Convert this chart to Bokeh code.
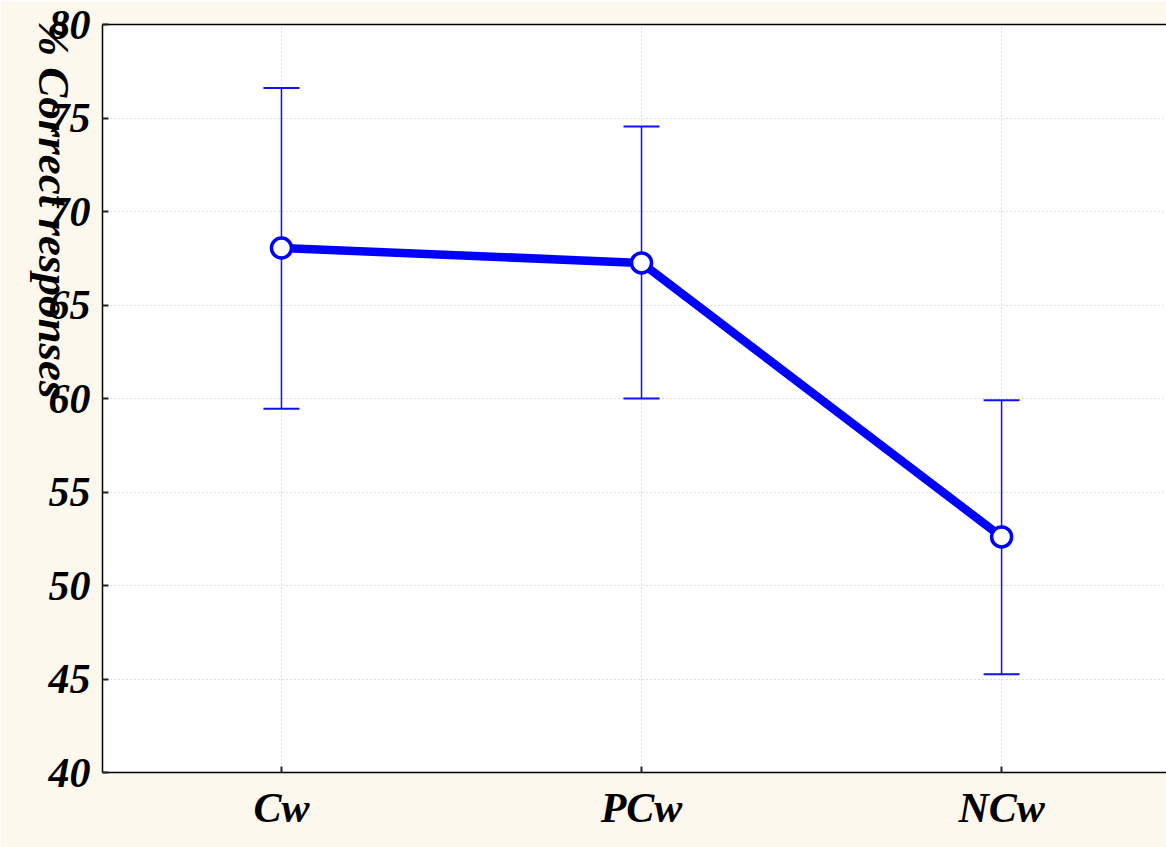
import math
from bokeh.plotting import figure
from bokeh.models import (ColumnDataSource, Whisker, TeeHead, FixedTicker,
                          LinearAxis, Range1d)
from bokeh.embed import file_html
from bokeh.resources import INLINE

# Mean % correct responses per condition with error-bar limits
conditions = ["Cw", "PCw", "NCw"]
means = [68.05, 67.25, 52.6]
upper = [76.6, 74.55, 59.9]
lower = [59.45, 60.0, 45.25]
y_ticks = [40, 45, 50, 55, 60, 65, 70, 75, 80]
y_title = "% Correct responses"

xs = list(range(len(conditions)))
src = ColumnDataSource(dict(x=xs, mean=means, upper=upper, lower=lower))

BG = "#FDF8EE"
FONT = "Liberation Serif"

p = figure(width=1166, height=847, output_backend="svg", toolbar_location=None,
           x_range=Range1d(-0.497, 2.458), y_range=Range1d(40, 80),
           min_border_left=102, min_border_right=0, min_border_top=24,
           min_border_bottom=75)
p.background_fill_color = "white"
p.border_fill_color = BG
p.outline_line_color = None

# axes
p.xaxis.ticker = FixedTicker(ticks=xs)
p.xaxis.major_label_overrides = {i: c for i, c in enumerate(conditions)}
p.yaxis.ticker = FixedTicker(ticks=y_ticks)
for ax in (p.xaxis[0], p.yaxis[0]):
    ax.axis_line_color = "black"
    ax.axis_line_width = 1.5
    ax.major_tick_in = 6
    ax.major_tick_out = 0
    ax.major_tick_line_color = "#222222"
    ax.major_tick_line_width = 2
    ax.minor_tick_line_color = None
    ax.major_label_text_font = FONT
    ax.major_label_text_font_style = "bold italic"
    ax.major_label_text_font_size = "42px"
    ax.major_label_text_color = "black"
p.xaxis.major_label_standoff = 12
p.yaxis.major_label_standoff = 12

# top border line
top_axis = LinearAxis(ticker=FixedTicker(ticks=[]), axis_line_color="black",
                      axis_line_width=1.5, major_tick_line_color=None,
                      minor_tick_line_color=None)
p.add_layout(top_axis, "above")

# y-axis title on a label-only axis, reading downward
title_axis = LinearAxis(ticker=FixedTicker(ticks=[]),
                        axis_line_color=None, major_tick_line_color=None,
                        minor_tick_line_color=None,
                        axis_label=y_title,
                        axis_label_orientation=-math.pi / 2,
                        axis_label_standoff=-8,
                        axis_label_text_font=FONT,
                        axis_label_text_font_style="bold italic",
                        axis_label_text_font_size="45px",
                        axis_label_text_color="black")
p.add_layout(title_axis, "left")

# dotted grid
p.xgrid.ticker = FixedTicker(ticks=xs)
p.ygrid.ticker = FixedTicker(ticks=y_ticks)
for g in (p.xgrid[0], p.ygrid[0]):
    g.grid_line_color = "#BBBBBB"
    g.grid_line_dash = "1 3"
    g.grid_line_width = 1

# error bars
whisk = Whisker(source=src, base="x", upper="upper", lower="lower",
                line_color="#1010F0", line_width=1.5,
                upper_head=TeeHead(size=36, line_color="#1010F0", line_width=2),
                lower_head=TeeHead(size=36, line_color="#1010F0", line_width=2))
p.add_layout(whisk)

# mean line with open circle markers
p.line("x", "mean", source=src, line_color="#0000FF", line_width=8.5)
p.scatter("x", "mean", source=src, marker="circle", size=20,
          fill_color="white", line_color="#0000FF", line_width=3.5)

open("out.html", "w").write(file_html(p, INLINE))
